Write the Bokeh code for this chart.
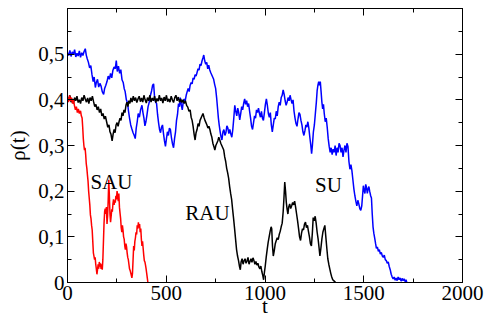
from bokeh.plotting import figure
from bokeh.models import Range1d, LinearAxis, FixedTicker, CustomJSTickFormatter, ColumnDataSource
from bokeh.core.properties import value
from bokeh.embed import file_html
from bokeh.resources import INLINE

FONT = "Liberation Serif"

# ---------------- data ----------------
x_ticks = [0, 500, 1000, 1500, 2000]
x_minor = [250, 750, 1250, 1750]
x_tick_labels = ["0", "500", "1000", "1500", "2000"]
y_ticks = [0, 0.1, 0.2, 0.3, 0.4, 0.5]
y_minor = [0.05, 0.15, 0.25, 0.35, 0.45, 0.55]
y_tick_labels = ["0", "0,1", "0,2", "0,3", "0,4", "0,5"]

series_names = ["SU", "RAU", "SAU"]
series_colors = ["#0000ff", "#000000", "#ff0000"]

su = [(0,0.503),(6,0.497),(12,0.508),(18,0.495),(24,0.505),(30,0.499),(36,0.51),(42,0.494),(48,0.502),(54,0.496),(60,0.507),(66,0.493),(72,0.503),(78,0.497),(84,0.506),(90,0.512),(95,0.498),(100,0.49),(106,0.482),(112,0.47),(118,0.475),(124,0.455),(130,0.44),(135,0.45),(141,0.427),(146,0.438),(152,0.445),(158,0.428),(164,0.436),(170,0.43),(176,0.418),(183,0.412),(188,0.425),(194,0.432),(200,0.44),(206,0.452),(212,0.445),(218,0.458),(224,0.448),(230,0.465),(236,0.472),(242,0.468),(247,0.486),(252,0.462),(258,0.474),(264,0.458),(270,0.466),(276,0.444),(282,0.438),(287,0.425),(292,0.418),(298,0.40),(304,0.393),(309,0.375),(314,0.36),(320,0.345),(326,0.336),(332,0.328),(338,0.322),(343,0.315),(348,0.338),(353,0.352),(358,0.37),(364,0.362),(370,0.378),(377,0.388),(382,0.372),(387,0.36),(392,0.343),(397,0.352),(402,0.366),(408,0.385),(414,0.395),(420,0.41),(426,0.42),(431,0.432),(436,0.435),(441,0.405),(446,0.395),(451,0.392),(456,0.368),(461,0.35),(466,0.335),(471,0.328),(476,0.34),(481,0.345),(486,0.326),(491,0.31),(496,0.298),(501,0.315),(506,0.33),(511,0.322),(516,0.338),(521,0.335),(526,0.318),(531,0.305),(537,0.295),(542,0.315),(547,0.33),(552,0.355),(557,0.368),(562,0.392),(567,0.385),(571,0.405),(576,0.39),(581,0.378),(586,0.395),(591,0.402),(596,0.398),(601,0.41),(606,0.418),(611,0.425),(616,0.418),(621,0.432),(626,0.438),(631,0.435),(636,0.448),(641,0.445),(646,0.455),(651,0.452),(656,0.46),(661,0.468),(666,0.465),(671,0.478),(676,0.475),(681,0.485),(686,0.492),(690,0.498),(695,0.485),(700,0.478),(705,0.482),(710,0.468),(715,0.476),(720,0.466),(725,0.46),(730,0.455),(735,0.45),(740,0.445),(745,0.434),(750,0.425),(755,0.405),(760,0.38),(764,0.36),(768,0.345),(773,0.33),(778,0.318),(782,0.312),(787,0.33),(792,0.335),(797,0.322),(802,0.328),(807,0.343),(812,0.338),(817,0.326),(822,0.335),(827,0.325),(832,0.318),(837,0.335),(842,0.36),(847,0.388),(852,0.375),(857,0.365),(862,0.382),(867,0.372),(872,0.356),(877,0.37),(882,0.385),(887,0.378),(892,0.392),(897,0.402),(902,0.39),(907,0.398),(912,0.385),(917,0.392),(922,0.375),(927,0.36),(932,0.342),(937,0.335),(942,0.35),(947,0.365),(952,0.36),(957,0.378),(962,0.372),(967,0.382),(972,0.37),(977,0.362),(982,0.375),(987,0.36),(992,0.355),(997,0.372),(1002,0.39),(1007,0.402),(1012,0.388),(1017,0.37),(1022,0.362),(1027,0.372),(1032,0.345),(1037,0.33),(1042,0.345),(1047,0.36),(1052,0.358),(1057,0.375),(1062,0.365),(1067,0.385),(1072,0.395),(1077,0.388),(1082,0.405),(1087,0.41),(1092,0.422),(1097,0.412),(1102,0.398),(1107,0.388),(1112,0.395),(1117,0.405),(1122,0.398),(1127,0.41),(1132,0.4),(1137,0.392),(1142,0.4),(1147,0.375),(1152,0.36),(1157,0.348),(1162,0.342),(1167,0.358),(1172,0.372),(1177,0.368),(1182,0.355),(1187,0.345),(1192,0.33),(1197,0.322),(1202,0.332),(1207,0.345),(1212,0.34),(1217,0.352),(1222,0.338),(1227,0.318),(1232,0.3),(1236,0.282),(1240,0.3),(1245,0.33),(1250,0.345),(1255,0.37),(1260,0.395),(1264,0.42),(1268,0.432),(1272,0.44),(1276,0.432),(1280,0.44),(1284,0.418),(1288,0.395),(1292,0.38),(1296,0.39),(1300,0.37),(1305,0.352),(1310,0.36),(1315,0.34),(1320,0.315),(1325,0.298),(1330,0.285),(1335,0.295),(1340,0.28),(1345,0.292),(1350,0.285),(1355,0.3),(1360,0.278),(1365,0.295),(1370,0.285),(1375,0.305),(1380,0.3),(1385,0.285),(1390,0.295),(1395,0.275),(1400,0.29),(1405,0.3),(1410,0.285),(1415,0.305),(1420,0.298),(1425,0.265),(1430,0.248),(1435,0.258),(1440,0.245),(1445,0.225),(1450,0.205),(1455,0.19),(1460,0.178),(1465,0.168),(1470,0.18),(1475,0.172),(1480,0.162),(1485,0.158),(1490,0.168),(1494,0.19),(1498,0.212),(1502,0.202),(1506,0.195),(1510,0.215),(1514,0.208),(1518,0.195),(1522,0.205),(1526,0.21),(1530,0.2),(1535,0.19),(1539,0.185),(1543,0.15),(1547,0.122),(1551,0.108),(1555,0.098),(1560,0.085),(1564,0.075),(1569,0.078),(1574,0.068),(1579,0.072),(1584,0.062),(1589,0.066),(1594,0.058),(1599,0.055),(1604,0.06),(1609,0.05),(1614,0.048),(1619,0.042),(1624,0.045),(1629,0.035),(1634,0.028),(1639,0.018),(1644,0.012),(1649,0.008),(1654,0.012),(1659,0.005),(1664,0.01),(1669,0.004),(1674,0.012),(1679,0.006),(1684,0.01),(1689,0.003),(1694,0.009),(1699,0.004),(1704,0.008),(1709,0.002),(1714,0.006),(1718,0.0)]

rau = [(0,0.405),(6,0.398),(12,0.41),(18,0.395),(24,0.402),(30,0.392),(36,0.405),(42,0.398),(48,0.408),(54,0.394),(60,0.4),(66,0.392),(72,0.405),(78,0.398),(84,0.41),(90,0.402),(96,0.395),(102,0.404),(108,0.392),(114,0.405),(120,0.398),(126,0.408),(132,0.396),(138,0.385),(144,0.39),(150,0.378),(156,0.385),(162,0.372),(168,0.38),(174,0.365),(180,0.37),(186,0.358),(192,0.364),(198,0.352),(204,0.34),(210,0.345),(215,0.33),(220,0.325),(226,0.31),(231,0.325),(236,0.335),(241,0.328),(246,0.345),(251,0.35),(256,0.342),(261,0.352),(266,0.36),(271,0.355),(276,0.372),(281,0.365),(286,0.378),(291,0.372),(296,0.388),(301,0.395),(306,0.385),(311,0.398),(316,0.392),(321,0.404),(327,0.395),(333,0.408),(339,0.398),(345,0.405),(351,0.394),(357,0.402),(363,0.408),(369,0.396),(375,0.404),(381,0.395),(387,0.41),(393,0.4),(399,0.393),(405,0.405),(411,0.398),(417,0.41),(423,0.395),(429,0.404),(435,0.398),(441,0.408),(447,0.394),(453,0.403),(459,0.397),(465,0.41),(471,0.398),(477,0.404),(483,0.393),(489,0.406),(495,0.398),(501,0.41),(507,0.396),(513,0.402),(519,0.395),(525,0.408),(531,0.4),(537,0.394),(543,0.405),(549,0.41),(555,0.398),(561,0.406),(567,0.395),(573,0.402),(579,0.394),(585,0.4),(591,0.392),(597,0.398),(603,0.388),(609,0.384),(615,0.375),(621,0.378),(626,0.362),(631,0.355),(636,0.342),(641,0.325),(646,0.312),(651,0.328),(656,0.335),(661,0.348),(666,0.342),(671,0.355),(676,0.36),(681,0.365),(686,0.37),(691,0.362),(696,0.355),(701,0.35),(706,0.345),(711,0.338),(716,0.342),(721,0.335),(726,0.325),(731,0.318),(736,0.305),(741,0.298),(746,0.29),(751,0.3),(756,0.305),(761,0.31),(766,0.318),(771,0.312),(776,0.305),(781,0.3),(786,0.295),(791,0.29),(796,0.275),(801,0.265),(806,0.25),(811,0.24),(816,0.228),(821,0.21),(826,0.195),(831,0.182),(836,0.16),(841,0.14),(846,0.118),(851,0.095),(856,0.072),(861,0.058),(866,0.048),(871,0.035),(875,0.028),(879,0.045),(884,0.052),(889,0.04),(894,0.048),(899,0.052),(904,0.042),(909,0.047),(914,0.055),(919,0.04),(924,0.046),(929,0.052),(934,0.044),(939,0.054),(944,0.048),(949,0.04),(954,0.046),(959,0.038),(964,0.042),(969,0.034),(974,0.03),(979,0.036),(984,0.024),(989,0.015),(993,0.006),(997,0.022),(1001,0.035),(1006,0.055),(1011,0.072),(1016,0.088),(1021,0.1),(1026,0.112),(1031,0.122),(1034,0.118),(1038,0.08),(1042,0.058),(1047,0.07),(1052,0.085),(1057,0.092),(1062,0.098),(1067,0.094),(1072,0.105),(1077,0.112),(1082,0.122),(1087,0.13),(1092,0.155),(1096,0.185),(1100,0.22),(1104,0.2),(1108,0.175),(1112,0.16),(1116,0.15),(1120,0.165),(1125,0.172),(1130,0.162),(1135,0.168),(1140,0.175),(1145,0.17),(1150,0.178),(1155,0.165),(1160,0.15),(1165,0.135),(1170,0.118),(1175,0.1),(1180,0.092),(1185,0.108),(1190,0.118),(1195,0.115),(1200,0.128),(1205,0.132),(1210,0.12),(1215,0.125),(1220,0.112),(1225,0.1),(1230,0.085),(1235,0.08),(1240,0.11),(1244,0.142),(1249,0.135),(1254,0.145),(1259,0.13),(1264,0.11),(1269,0.095),(1274,0.075),(1278,0.058),(1283,0.075),(1288,0.095),(1293,0.11),(1298,0.118),(1303,0.125),(1308,0.1),(1313,0.075),(1318,0.052),(1323,0.04),(1328,0.03),(1333,0.02),(1338,0.012),(1343,0.006),(1348,0.004),(1353,0.002),(1357,0.0)]

sau = [(0,0.405),(5,0.395),(10,0.41),(15,0.398),(20,0.405),(25,0.392),(30,0.4),(35,0.388),(40,0.378),(45,0.385),(50,0.372),(55,0.38),(60,0.37),(66,0.376),(70,0.365),(74,0.36),(77,0.34),(80,0.315),(83,0.3),(86,0.29),(89,0.295),(92,0.28),(95,0.26),(98,0.25),(101,0.235),(104,0.222),(107,0.2),(110,0.185),(113,0.17),(116,0.148),(119,0.14),(122,0.125),(125,0.115),(128,0.09),(131,0.065),(134,0.058),(137,0.05),(140,0.055),(143,0.04),(146,0.03),(149,0.018),(152,0.028),(155,0.04),(158,0.03),(161,0.045),(164,0.035),(167,0.042),(170,0.03),(173,0.04),(176,0.028),(179,0.05),(182,0.09),(185,0.13),(188,0.155),(191,0.162),(194,0.15),(197,0.165),(200,0.128),(203,0.145),(206,0.18),(209,0.225),(212,0.19),(215,0.15),(218,0.132),(221,0.145),(224,0.16),(227,0.155),(230,0.172),(233,0.182),(236,0.17),(239,0.18),(242,0.175),(245,0.19),(248,0.182),(251,0.2),(254,0.19),(257,0.178),(260,0.195),(263,0.165),(266,0.152),(269,0.14),(272,0.12),(275,0.11),(278,0.125),(281,0.115),(284,0.1),(287,0.095),(290,0.08),(293,0.072),(296,0.085),(299,0.078),(302,0.065),(305,0.055),(308,0.05),(311,0.04),(314,0.03),(318,0.025),(322,0.018),(326,0.01),(329,0.02),(332,0.05),(335,0.08),(338,0.07),(341,0.09),(344,0.098),(347,0.11),(350,0.105),(353,0.125),(356,0.118),(359,0.132),(362,0.12),(365,0.128),(368,0.11),(371,0.118),(374,0.095),(377,0.08),(380,0.09),(383,0.075),(386,0.06),(389,0.048),(392,0.045),(395,0.038),(398,0.03),(401,0.02),(404,0.01),(407,0.0)]

label_x = [1253, 596, 116]
label_y = [0.214, 0.153, 0.221]

# ---------------- figure ----------------
p = figure(width=485, height=320,
           x_range=Range1d(0, 2000), y_range=Range1d(0, 0.6),
           output_backend="svg", toolbar_location=None,
           min_border_left=67, min_border_right=23,
           min_border_top=8, min_border_bottom=37,
           x_axis_label="t", y_axis_label="ρ(t)")
p.background_fill_color = "white"
p.border_fill_color = "white"
p.outline_line_color = "black"
p.outline_line_width = 1
p.xgrid.visible = False
p.ygrid.visible = False

for data, color in zip([su, rau, sau], series_colors):
    ts = [d[0] for d in data]
    vs = [d[1] for d in data]
    p.line(ts, vs, line_color=color, line_width=1.5)

src = ColumnDataSource(dict(x=label_x, y=label_y, text=series_names))
p.text(x="x", y="y", text="text", source=src, text_font=value(FONT),
       text_font_size="21px", text_color="black",
       text_align="left", text_baseline="alphabetic")

JS = ("const i = tick_vals.findIndex(v => Math.abs(v - tick) < 1e-6); "
      "return i >= 0 ? tick_text[i] : '';")


def style(ax, major, minor, labels_on):
    ax.ticker = FixedTicker(ticks=major, minor_ticks=minor)
    ax.axis_line_color = "black"
    ax.axis_line_width = 1
    ax.major_tick_line_color = "black"
    ax.minor_tick_line_color = "black"
    ax.major_tick_in = 7
    ax.major_tick_out = 0
    ax.minor_tick_in = 4
    ax.minor_tick_out = 0
    ax.major_label_text_font = FONT
    ax.major_label_text_color = "black"
    ax.axis_label_text_font = FONT
    ax.axis_label_text_font_style = "normal"
    ax.axis_label_text_color = "black"
    ax.axis_label_text_font_size = "21px"
    if labels_on:
        ax.major_label_text_font_size = "21px"
    else:
        ax.major_label_text_font_size = "1px"
        ax.major_label_standoff = 0
        ax.formatter = CustomJSTickFormatter(code="return '';")


xa = p.xaxis[0]
style(xa, x_ticks, x_minor, True)
xa.formatter = CustomJSTickFormatter(args=dict(tick_vals=x_ticks, tick_text=x_tick_labels), code=JS)
xa.major_label_standoff = 3
xa.axis_label_standoff = -9

ya = p.yaxis[0]
style(ya, y_ticks, y_minor, True)
ya.formatter = CustomJSTickFormatter(args=dict(tick_vals=y_ticks, tick_text=y_tick_labels), code=JS)
ya.major_label_standoff = 3
ya.axis_label_standoff = 5

top = LinearAxis()
style(top, x_ticks, x_minor, False)
p.add_layout(top, "above")

right = LinearAxis()
style(right, y_ticks + [0.6], y_minor, False)
p.add_layout(right, "right")

open("out.html", "w").write(file_html(p, INLINE))
